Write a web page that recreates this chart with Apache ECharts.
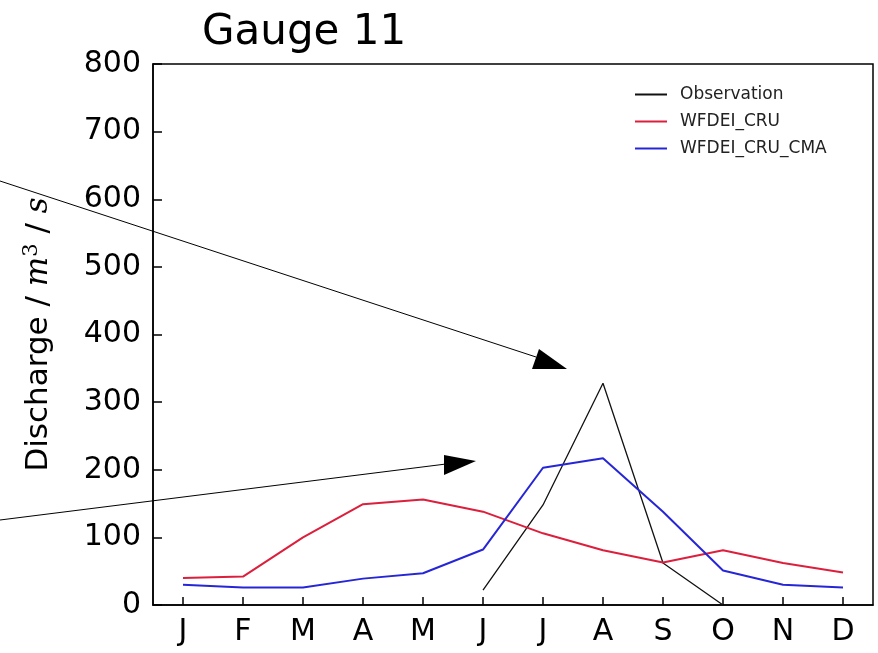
<!DOCTYPE html>
<html>
<head>
<meta charset="utf-8">
<script src="https://cdn.jsdelivr.net/npm/echarts@6/dist/echarts.min.js"></script>
<style>
  html, body { margin: 0; padding: 0; background: #fff; }
  #chart { width: 878px; height: 653px; }
</style>
</head>
<body>
<div id="chart"></div>
<script>
// 月份
var months = ['J', 'F', 'M', 'A', 'M', 'J', 'J', 'A', 'S', 'O', 'N', 'D'];
// 各系列的月流量 (m3/s)
var observation = [null, null, null, null, null, 22, 148, 328, 62, 0, null, null];
var wfdeiCru = [40, 42, 100, 149, 156, 138, 106, 81, 63, 81, 62, 48];
var wfdeiCruCma = [30, 26, 26, 39, 47, 82, 203, 217, 138, 51, 30, 26];
var yTicks = [0, 100, 200, 300, 400, 500, 600, 700, 800];

var font = 'DejaVu Sans';
var chart = echarts.init(document.getElementById('chart'));

var option = {
    backgroundColor: '#fff',
    animation: false,
    title: {
        text: 'Gauge 11',
        left: 197,
        top: 7,
        textStyle: { fontFamily: font, fontSize: 42, fontWeight: 'normal', color: '#000' }
    },
    grid: {
        left: 153, right: 5, top: 64, bottom: 48,
        show: true, borderColor: '#000', borderWidth: 1.5, backgroundColor: 'transparent'
    },
    legend: {
        orient: 'vertical',
        left: 630,
        top: 81,
        itemWidth: 32,
        itemHeight: 2,
        itemGap: 10,
        icon: 'rect',
        textStyle: { fontFamily: font, fontSize: 17, color: '#222', padding: [0, 0, 0, 8] },
        data: ['Observation', 'WFDEI_CRU', 'WFDEI_CRU_CMA']
    },
    xAxis: {
        type: 'category',
        data: months,
        boundaryGap: true,
        axisLine: { show: true, lineStyle: { color: '#000', width: 1.5 } },
        axisTick: { show: true, inside: true, alignWithLabel: true, length: 8, lineStyle: { color: '#000', width: 1.5 } },
        axisLabel: { fontFamily: font, fontSize: 30, color: '#000', margin: 12 },
        splitLine: { show: false }
    },
    yAxis: {
        type: 'value',
        min: yTicks[0],
        max: yTicks[yTicks.length - 1],
        interval: 100,
        name: '{n|Discharge / }{m|m}{sup|3}{n| / }{m|s}',
        nameLocation: 'middle',
        nameGap: 97,
        nameRotate: 90,
        nameTextStyle: {
            rich: {
                n: { fontFamily: font, fontSize: 31, color: '#000' },
                m: { fontFamily: 'DejaVu Serif', fontStyle: 'italic', fontSize: 31, color: '#000' },
                sup: { fontFamily: 'DejaVu Serif', fontSize: 21, color: '#000', verticalAlign: 'top', padding: [0, 0, 14, 0] }
            }
        },
        axisLine: { show: true, lineStyle: { color: '#000', width: 1.5 } },
        axisTick: { show: true, inside: true, length: 9, lineStyle: { color: '#000', width: 1.5 } },
        axisLabel: { fontFamily: font, fontSize: 30, color: '#000', margin: 12 },
        splitLine: { show: false }
    },
    series: [
        {
            name: 'Observation',
            type: 'line',
            data: observation,
            symbol: 'none',
            color: '#111',
            lineStyle: { color: '#111', width: 1.3 }
        },
        {
            name: 'WFDEI_CRU',
            type: 'line',
            data: wfdeiCru,
            symbol: 'none',
            color: '#dc1f3c',
            lineStyle: { color: '#dc1f3c', width: 2 }
        },
        {
            name: 'WFDEI_CRU_CMA',
            type: 'line',
            data: wfdeiCruCma,
            symbol: 'none',
            color: '#2626d6',
            lineStyle: { color: '#2626d6', width: 2 }
        }
    ],
    // 注释箭头
    graphic: [
        { type: 'line', shape: { x1: 0, y1: 181, x2: 536, y2: 357 }, style: { stroke: '#000', lineWidth: 1 }, z: 100 },
        { type: 'polygon', shape: { points: [[532, 369], [539, 349], [567, 369]] }, style: { fill: '#000' }, z: 100 },
        { type: 'line', shape: { x1: 0, y1: 520, x2: 446, y2: 464 }, style: { stroke: '#000', lineWidth: 1 }, z: 100 },
        { type: 'polygon', shape: { points: [[444, 455], [476, 461], [444, 475]] }, style: { fill: '#000' }, z: 100 }
    ]
};

chart.setOption(option);
</script>
</body>
</html>
